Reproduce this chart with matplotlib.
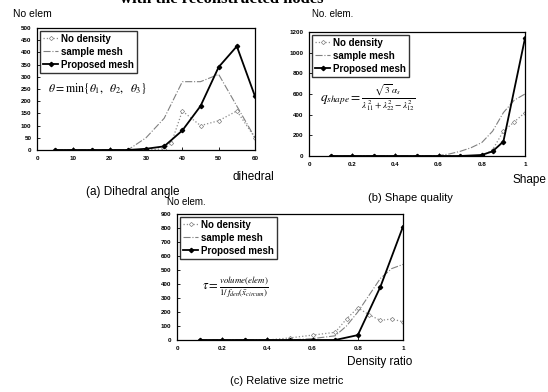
import matplotlib
matplotlib.use('Agg')
import matplotlib.pyplot as plt

plt.rcParams['font.family'] = ['Liberation Sans', 'DejaVu Sans']
plt.rcParams['mathtext.fontset'] = 'stix'

# (a) dihedral angle
a_x = [5, 10, 15, 20, 25, 30, 35, 40, 45, 50, 55, 60]
a_nodens_x = [5, 10, 15, 20, 25, 30, 35, 37, 40, 45, 50, 55, 60]
a_nodens = [0, 0, 0, 0, 0, 0, 5, 30, 160, 100, 120, 160, 50]
a_sample_x = [5, 10, 15, 20, 25, 30, 35, 40, 45, 50, 55, 60]
a_sample = [0, 0, 0, 0, 0, 50, 130, 280, 280, 310, 180, 50]
a_prop = [0, 0, 0, 0, 0, 5, 15, 80, 180, 340, 425, 220]

# (b) shape quality
b_x = [0.1, 0.2, 0.3, 0.4, 0.5, 0.6, 0.7, 0.8, 0.85, 0.9, 1.0]
b_prop = [0, 0, 0, 0, 0, 0, 0, 10, 45, 140, 1140]
b_nodens_x = [0.1, 0.2, 0.3, 0.4, 0.5, 0.6, 0.7, 0.8, 0.85, 0.9, 0.95, 1.0]
b_nodens = [0, 0, 0, 0, 0, 0, 0, 0, 60, 240, 330, 420]
b_sample_x = [0.1, 0.2, 0.3, 0.4, 0.5, 0.6, 0.65, 0.7, 0.75, 0.8, 0.85, 0.9, 0.95, 1.0]
b_sample = [0, 0, 0, 0, 0, 5, 20, 45, 80, 130, 240, 420, 540, 600]

# (c) relative size metric
c_x = [0.1, 0.2, 0.3, 0.4, 0.5, 0.6, 0.7, 0.8, 0.9, 1.0]
c_prop = [0, 0, 0, 0, 0, 0, 0, 35, 380, 810]
c_nodens_x = [0.1, 0.2, 0.3, 0.4, 0.5, 0.6, 0.7, 0.75, 0.8, 0.85, 0.9, 0.95, 1.0]
c_nodens = [0, 0, 0, 0, 15, 35, 55, 150, 230, 180, 140, 150, 130]
c_sample_x = [0.1, 0.2, 0.3, 0.4, 0.5, 0.6, 0.7, 0.75, 0.8, 0.85, 0.9, 0.95, 1.0]
c_sample = [0, 0, 0, 0, 0, 10, 30, 100, 200, 320, 440, 510, 540]

labels = ['No density', 'sample mesh', 'Proposed mesh']

W, H = 548, 392


def px_axes(fig, left, top, right, bottom):
    return fig.add_axes([left / W, 1 - bottom / H, (right - left) / W, (bottom - top) / H])


def draw_panel(ax, nx, ny, sx, sy, px, py, xlim, xticks, xtlabels, ylim, yticks):
    ax.plot(nx, ny, color='0.55', ls=':', lw=0.9, marker='D', ms=2.2,
            mfc='white', mec='0.5', mew=0.5, label=labels[0])
    ax.plot(sx, sy, color='0.5', ls='-.', lw=0.8, label=labels[1])
    ax.plot(px, py, color='black', ls='-', lw=1.3, marker='D', ms=2.2, label=labels[2])
    ax.set_xlim(*xlim)
    ax.set_ylim(*ylim)
    ax.set_xticks(xticks)
    ax.set_xticklabels(xtlabels)
    ax.set_yticks(yticks)
    ax.tick_params(direction='in', length=2, width=0.6, labelsize=4.5, pad=4)
    for lab in ax.get_xticklabels() + ax.get_yticklabels():
        lab.set_fontweight('bold')
    for sp in ax.spines.values():
        sp.set_linewidth(0.9)
    leg = ax.legend(loc='upper left', prop={'weight': 'bold', 'size': 7},
                    frameon=True, fancybox=False, edgecolor='black',
                    handlelength=1.6, handletextpad=0.3, borderpad=0.3,
                    labelspacing=0.3, borderaxespad=0.3)
    leg.get_frame().set_linewidth(1.0)


fig = plt.figure(figsize=(W / 100, H / 100), dpi=100)

ax_a = px_axes(fig, 37, 28, 255, 150)
draw_panel(ax_a, a_nodens_x, a_nodens, a_sample_x, a_sample, a_x, a_prop,
           (0, 60), [0, 10, 20, 30, 40, 50, 60], ['0', '10', '20', '30', '40', '50', '60'],
           (0, 500), list(range(0, 501, 50)))
ax_a.text(0.05, 0.5, r'$\theta = \min\{\theta_1,\ \ \theta_2,\ \ \theta_3\}$',
          transform=ax_a.transAxes, fontsize=8.5, va='center')

ax_b = px_axes(fig, 309, 32, 525, 156)
draw_panel(ax_b, b_nodens_x, b_nodens, b_sample_x, b_sample, b_x, b_prop,
           (0, 1), [0, 0.2, 0.4, 0.6, 0.8, 1.0], ['0', '0.2', '0.4', '0.6', '0.8', '1'],
           (0, 1200), list(range(0, 1201, 200)))
ax_b.text(0.27, 0.47,
          r'$q_{shape} = \frac{\sqrt{3}\,\alpha_s}{\lambda_{11}^2+\lambda_{22}^2-\lambda_{12}^2}$',
          transform=ax_b.transAxes, fontsize=9.5, va='center', ha='center')

ax_c = px_axes(fig, 177, 214, 403, 340)
draw_panel(ax_c, c_nodens_x, c_nodens, c_sample_x, c_sample, c_x, c_prop,
           (0, 1), [0, 0.2, 0.4, 0.6, 0.8, 1.0], ['0', '0.2', '0.4', '0.6', '0.8', '1'],
           (0, 900), list(range(0, 901, 100)))
ax_c.text(0.26, 0.42,
          r'$\tau = \frac{volume(elem)}{1/\,f_{den}(\bar{x}_{circum})}$',
          transform=ax_c.transAxes, fontsize=9, va='center', ha='center')


def ftext(x, y, s, **kw):
    fig.text(x / W, 1 - y / H, s, **kw)


# clipped heading from the page above
ftext(222, 3, 'with the reconstructed nodes', fontsize=12, fontweight='bold',
      ha='center', va='baseline', family='Liberation Serif')

ftext(13, 14, 'No elem', fontsize=7.5, va='center')
ftext(253, 177, 'dihedral', fontsize=8.5, ha='center', va='center')
ftext(133, 192, '(a) Dihedral angle', fontsize=8.5, ha='center', va='center')

ftext(312, 14, 'No. elem.', fontsize=7, va='center')
ftext(546, 180, 'Shape', fontsize=8.5, ha='right', va='center')
ftext(410, 198, '(b) Shape quality', fontsize=8, ha='center', va='center')

ftext(167, 202, 'No elem.', fontsize=7, va='center')
ftext(380, 362, 'Density ratio', fontsize=8.5, ha='center', va='center')
ftext(287, 381, '(c) Relative size metric', fontsize=8, ha='center', va='center')

fig.savefig('out.png', dpi=100)
